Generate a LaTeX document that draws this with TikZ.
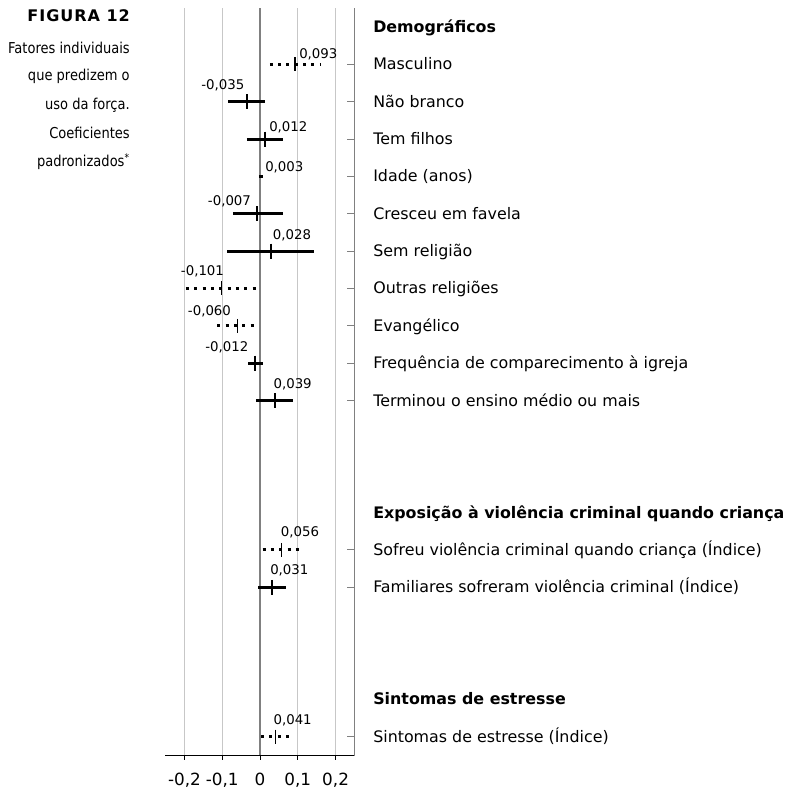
\documentclass[tikz,border=0pt]{standalone}
\usepackage{fontspec}
\setmainfont{DejaVu Sans}
\newfontfamily\capfont[FakeStretch=0.87]{DejaVu Sans}
\usetikzlibrary{positioning}

\tikzset{
  gridln/.style={draw=black!22, line width=0.75pt},
  zeroln/.style={draw=black!50, line width=1.5pt},
  cisolid/.style={line width=2.25pt},
  cidot/.style={line width=2.25pt, dash pattern=on 2.25pt off 4pt},
  coef/.style={font=\fontsize{10}{12}\selectfont, inner sep=0pt, anchor=base west},
  rowlbl/.style={font=\fontsize{11.9}{14}\selectfont, inner sep=0pt, anchor=base west},
  ticklbl/.style={font=\fontsize{12.6}{14}\selectfont, inner sep=0pt, anchor=base},
  caplbl/.style={font=\capfont\fontsize{11.25}{13}\selectfont, inner sep=0pt, anchor=base east},
}

\begin{document}
\begin{tikzpicture}[x=0.75pt, y=-0.75pt]
    \useasboundingbox (0,0) rectangle (788,789);

    % caption
    \node[caplbl, font=\fontsize{12}{14}\selectfont\bfseries\addfontfeatures{LetterSpace=6}] (fig) at (130,21.7) {FIGURA 12};
    \node[caplbl] (cap1) at (130,53.3) {Fatores individuais};
    \node[caplbl] (cap2) at (130,80.7) {que predizem o};
    \node[caplbl] (cap3) at (130,109.3) {uso da força.};
    \node[caplbl] (cap4) at (130,138.3) {Coeficientes};
    \node[caplbl] (cap5) at (130,166.7) {padronizados\textsuperscript{*}};

    % grid and axes
    \foreach \gx in {184.4,222.2,297.8,335.6}
        \draw[gridln] (\gx,8) -- (\gx,755.7);
    \draw[zeroln] (260,8) -- (260,755.7);
    \draw[draw=black!50, line width=0.75pt] (354.3,8) -- (354.3,755.7);
    \draw[line width=0.75pt] (165,755.7) -- (354.3,755.7);
    \foreach \gx/\t in {184.4/{-0,2},222.2/{-0,1},260/0,297.8/{0,1},335.6/{0,2}} {
        \draw[line width=0.75pt] (\gx,755.7) -- (\gx,759.5);
        \node[ticklbl] at (\gx,785) {\t};
    }

    % headings
    \node[rowlbl, font=\fontsize{11.9}{14}\selectfont\bfseries] (h1) at (373,32.5) {Demográficos};
    \node[rowlbl, font=\fontsize{11.9}{14}\selectfont\bfseries] (h2) at (373,518) {Exposição à violência criminal quando criança};
    \node[rowlbl, font=\fontsize{11.9}{14}\selectfont\bfseries] (h3) at (373,704.8) {Sintomas de estresse};

    % rows: y / low / coef / high / style / tick / label x / label y / value / name
    \foreach \y/\lo/\v/\hi/\st/\tw/\hh/\lx/\ly/\val/\name in {
        64.35/0.026/0.093/0.159/cidot/1/7/299/58.3/{0,093}/Masculino,
        101.7/-0.084/-0.035/0.014/cisolid/1.5/7.5/201/89.3/{-0,035}/Não branco,
        139.05/-0.035/0.012/0.060/cisolid/1.5/7.5/269/131.7/{0,012}/Tem filhos,
        176.4/-0.003/0.003/0.009/cisolid/1.5/0/265/171.7/{0,003}/Idade (anos),
        213.75/-0.072/-0.007/0.060/cisolid/1.5/7.5/207.7/205/{-0,007}/Cresceu em favela,
        251.1/-0.086/0.028/0.144/cisolid/1.5/7.5/272.7/239/{0,028}/Sem religião,
        288.45/-0.196/-0.101/-0.007/cidot/1/7/180.7/275/{-0,101}/Outras religiões,
        325.8/-0.113/-0.060/-0.007/cidot/1/7/187.7/315/{-0,060}/Evangélico,
        363.15/-0.031/-0.012/0.007/cisolid/1.5/7.5/205/351.7/{-0,012}/Frequência de comparecimento à igreja,
        400.5/-0.010/0.039/0.088/cisolid/1.5/7.5/273.3/388.3/{0,039}/Terminou o ensino médio ou mais,
        549.9/0.007/0.056/0.104/cidot/1/7/280.7/536.7/{0,056}/Sofreu violência criminal quando criança (Índice),
        587.25/-0.004/0.031/0.069/cisolid/1.5/7.5/270/574.3/{0,031}/Familiares sofreram violência criminal (Índice),
        736.65/0.003/0.041/0.078/cidot/1/7/273.3/724/{0,041}/Sintomas de estresse (Índice)} {
        \draw[\st] ({260+378*\lo},\y) -- ({260+378*\hi},\y);
        \draw[line width=\tw pt] ({260+378*\v},\y-\hh) -- ({260+378*\v},\y+\hh);
        \node[coef] (c\y) at (\lx,\ly) {\val};
        \draw[draw=black!50, line width=0.75pt] (347,\y) -- (354.3,\y);
        \node[rowlbl] (r\y) at (373,\y+5.5) {\name};
    }
\end{tikzpicture}
\end{document}
